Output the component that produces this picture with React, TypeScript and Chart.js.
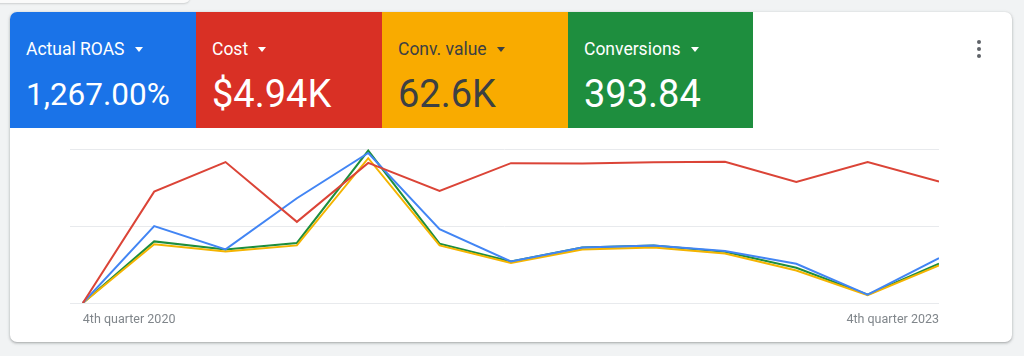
import React, { useEffect, useRef } from "react";
import { Chart, registerables } from "chart.js";

Chart.register(...registerables);

// Quarter index 0 = 4th quarter 2020 ... 12 = 4th quarter 2023
const quarters = [
  "4th quarter 2020", "1st quarter 2021", "2nd quarter 2021", "3rd quarter 2021",
  "4th quarter 2021", "1st quarter 2022", "2nd quarter 2022", "3rd quarter 2022",
  "4th quarter 2022", "1st quarter 2023", "2nd quarter 2023", "3rd quarter 2023",
  "4th quarter 2023",
];
// Series values, normalised to each metric's own range (0–100)
const costValues = [0, 72.3, 91.5, 52.7, 91, 72.7, 90.8, 90.6, 91.4, 91.7, 78.6, 91.5, 78.8];
const roasValues = [0, 49.9, 34.8, 68, 97.4, 47.9, 27, 36, 37.4, 33.7, 25.5, 5.4, 29.2];
const convValueValues = [0, 38.1, 33.5, 37.4, 94, 37.4, 26, 34.8, 36.1, 32.2, 21.1, 5.1, 24.4];
const conversionsValues = [0, 40, 34.8, 39, 99, 38.5, 27, 36, 37.4, 33.3, 22.9, 5.4, 25.5];
const yTicks = [0, 50, 100];

const cards = [
  { title: "Actual ROAS", value: "1,267.00%", bg: "#1a73e8", fg: "#ffffff", size: 31.5, base: 105 },
  { title: "Cost", value: "$4.94K", bg: "#d93025", fg: "#ffffff", size: 38, base: 107.5 },
  { title: "Conv. value", value: "62.6K", bg: "#f9ab00", fg: "#3c4043", size: 38, base: 107.5 },
  { title: "Conversions", value: "393.84", bg: "#1e8e3e", fg: "#ffffff", size: 38, base: 107.5 },
];

const toPts = (arr: number[]) => arr.map((v, i) => ({ x: i, y: v }));

export default function App() {
  const ref = useRef<HTMLCanvasElement | null>(null);
  useEffect(() => {
    if (!ref.current) return;
    const chart = new Chart(ref.current, {
      type: "line",
      data: {
        datasets: [
          { label: "Cost", data: toPts(costValues), borderColor: "#db4437", borderWidth: 2, pointRadius: 0, tension: 0 },
          { label: "Actual ROAS", data: toPts(roasValues), borderColor: "#4285f4", borderWidth: 2, pointRadius: 0, tension: 0 },
          { label: "Conv. value", data: toPts(convValueValues), borderColor: "#f4b400", borderWidth: 2, pointRadius: 0, tension: 0 },
          { label: "Conversions", data: toPts(conversionsValues), borderColor: "#1e8e3e", borderWidth: 2, pointRadius: 0, tension: 0 },
        ],
      },
      options: {
        animation: false,
        responsive: false,
        maintainAspectRatio: false,
        layout: { padding: { left: 10, right: 11, top: 10, bottom: 3 } },
        plugins: { legend: { display: false }, tooltip: { enabled: false } },
        scales: {
          x: {
            type: "linear",
            min: -0.18,
            max: 12,
            afterBuildTicks: (axis: any) => {
              axis.ticks = [{ value: 0 }, { value: 12 }];
            },
            grid: { display: false, drawTicks: false },
            border: { display: false },
            ticks: {
              autoSkip: false,
              maxRotation: 0,
              align: "inner",
              padding: 9,
              color: "#80868b",
              font: { family: "Roboto", size: 12.5 },
              callback: (v: any) => quarters[Math.round(Number(v))] ?? "",
            },
          },
          y: {
            min: 0,
            max: 100,
            afterBuildTicks: (axis: any) => {
              axis.ticks = yTicks.map((v) => ({ value: v }));
            },
            grid: { color: "#e8eaed", lineWidth: 1, drawTicks: false },
            border: { display: false },
            ticks: { display: false },
          },
        },
      },
    });
    return () => chart.destroy();
  }, []);

  return (
    <div style={{ position: "absolute", left: 0, top: 0, width: 1024, height: 356, background: "#f1f3f4", overflow: "hidden", fontFamily: "Roboto, sans-serif" }}>
      <div style={{ position: "absolute", left: -10, top: -12, width: 200, height: 15, background: "#fafafa", borderRadius: 6, boxShadow: "0 1px 2px rgba(60,64,67,0.2)" }} />
      <div style={{ position: "absolute", left: 10, top: 12, width: 1002, height: 330, background: "#ffffff", borderRadius: 7, boxShadow: "0 1px 2px rgba(60,64,67,0.3), 0 1px 3px 1px rgba(60,64,67,0.12)", overflow: "hidden" }}>
        {cards.map((c, i) => (
          <div key={c.title} style={{ position: "absolute", left: i * 186, top: 0, width: i === 3 ? 185 : 186, height: 116, background: c.bg, color: c.fg }}>
            <div style={{ position: "absolute", left: 16, top: 26, fontSize: 17.5, lineHeight: "22px", whiteSpace: "nowrap", display: "flex", alignItems: "center" }}>
              <span>{c.title}</span>
              <span style={{ display: "inline-block", marginLeft: 10, width: 0, height: 0, borderLeft: "4.5px solid transparent", borderRight: "4.5px solid transparent", borderTop: `5px solid ${c.fg}` }} />
            </div>
            <div style={{ position: "absolute", left: 16, top: c.base - 12 - c.size * 0.93 + 3, fontSize: c.size, lineHeight: 1, whiteSpace: "nowrap" }}>{c.value}</div>
          </div>
        ))}
        <div style={{ position: "absolute", left: 966, top: 28, width: 6, height: 18, display: "flex", flexDirection: "column", justifyContent: "space-between", alignItems: "center" }}>
          {[0, 1, 2].map((k) => (
            <div key={k} style={{ width: 4, height: 4, borderRadius: 2, background: "#5f6368" }} />
          ))}
        </div>
        <canvas ref={ref} width={890} height={200} style={{ position: "absolute", left: 50, top: 127, width: 890, height: 200 }} />
      </div>
    </div>
  );
}
